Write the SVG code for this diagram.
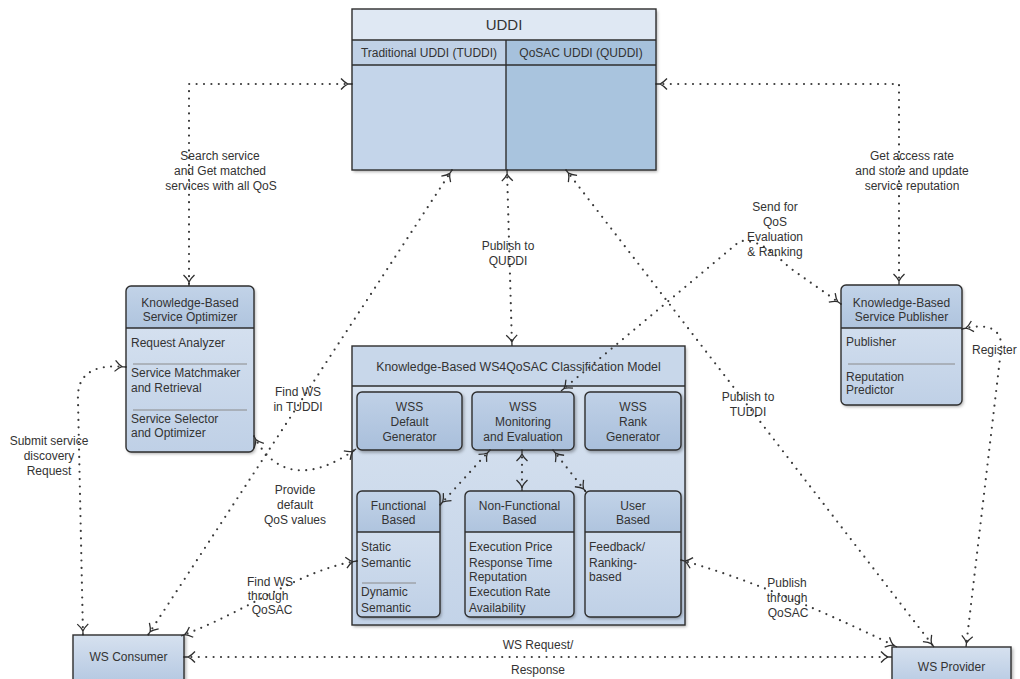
<svg xmlns="http://www.w3.org/2000/svg" width="1020" height="679" viewBox="0 0 1020 679">
<style>
text{font-family:"Liberation Sans",Arial,sans-serif;font-size:12px;fill:#333}
.c{text-anchor:middle}
.t{font-size:15px}
.ln{fill:none;stroke:#3a3a3a;stroke-width:2.2;stroke-linecap:round;stroke-dasharray:0 7.4;marker-start:url(#ah);marker-end:url(#ah)}
.bd{stroke:#2e2e2e;stroke-width:1.4}
.dv{stroke:#8a8a8a;stroke-width:1}
.sh{filter:url(#ds)}
</style>
<defs>
<linearGradient id="gb" x1="0" y1="0" x2="0" y2="1"><stop offset="0" stop-color="#dbe5f2"/><stop offset="1" stop-color="#bfd0e6"/></linearGradient>
<linearGradient id="gh" x1="0" y1="0" x2="0" y2="1"><stop offset="0" stop-color="#c2d3e8"/><stop offset="1" stop-color="#afc4de"/></linearGradient>
<linearGradient id="gw" x1="0" y1="0" x2="0" y2="1"><stop offset="0" stop-color="#c0d1e7"/><stop offset="1" stop-color="#a9bfdb"/></linearGradient>
<linearGradient id="gm" x1="0" y1="0" x2="0" y2="1"><stop offset="0" stop-color="#dbe5f1"/><stop offset="1" stop-color="#c3d3e8"/></linearGradient>
<linearGradient id="gs" x1="0" y1="0" x2="0" y2="1"><stop offset="0" stop-color="#d6e1ef"/><stop offset="1" stop-color="#b6c9e2"/></linearGradient>
<filter id="ds" x="-10%" y="-10%" width="130%" height="130%"><feDropShadow dx="1.5" dy="2" stdDeviation="1.5" flood-color="#000" flood-opacity="0.3"/></filter>
<marker id="ah" viewBox="0 -7 13 14" markerWidth="13" markerHeight="14" refX="11" refY="0" orient="auto-start-reverse" markerUnits="userSpaceOnUse" overflow="visible">
<path d="M0,-5.5 Q4,-1.2 7,0 Q4,1.2 0,5.5 M7,0 L11,0" fill="none" stroke="#2e2e2e" stroke-width="1.3"/>
</marker>
</defs>

<g id="uddi">
<rect x="352" y="9" width="304" height="161" fill="#c4d5ea" class="sh"/>
<rect x="352" y="9" width="304" height="31" fill="#dfe8f3"/>
<rect x="352" y="40" width="154" height="25" fill="#c0d1e6"/>
<rect x="506" y="40" width="150" height="25" fill="#a6c1dc"/>
<rect x="506" y="65" width="150" height="105" fill="#a9c4de"/>
<line x1="352" y1="40" x2="656" y2="40" class="bd"/>
<line x1="352" y1="65" x2="656" y2="65" class="bd"/>
<line x1="506" y1="40" x2="506" y2="170" class="bd"/>
<rect x="352" y="9" width="304" height="161" fill="none" class="bd"/>
<text x="504" y="30" class="c t">UDDI</text>
<text x="429" y="57" class="c">Traditional UDDI (TUDDI)</text>
<text x="581" y="57" class="c">QoSAC UDDI (QUDDI)</text>
</g>

<g id="optimizer">
<rect x="126" y="286" width="128" height="166" rx="5" fill="url(#gb)" class="sh"/>
<path d="M126 328 V291 Q126 286 131 286 H249 Q254 286 254 291 V328 Z" fill="url(#gh)"/>
<line x1="126" y1="328" x2="254" y2="328" class="bd"/>
<line x1="133" y1="364" x2="247" y2="364" class="dv"/>
<line x1="133" y1="410" x2="247" y2="410" class="dv"/>
<rect x="126" y="286" width="128" height="166" rx="5" fill="none" class="bd"/>
<text x="190" y="307" class="c">Knowledge-Based</text>
<text x="190" y="321" class="c">Service Optimizer</text>
<text x="131" y="347">Request Analyzer</text>
<text x="131" y="377">Service Matchmaker</text>
<text x="131" y="392">and Retrieval</text>
<text x="131" y="423">Service Selector</text>
<text x="131" y="437">and Optimizer</text>
</g>

<g id="publisher">
<rect x="841" y="285" width="121" height="120" rx="5" fill="url(#gb)" class="sh"/>
<path d="M841 328 V290 Q841 285 846 285 H957 Q962 285 962 290 V328 Z" fill="url(#gh)"/>
<line x1="841" y1="328" x2="962" y2="328" class="bd"/>
<line x1="848" y1="364" x2="955" y2="364" class="dv"/>
<rect x="841" y="285" width="121" height="120" rx="5" fill="none" class="bd"/>
<text x="901.5" y="307" class="c">Knowledge-Based</text>
<text x="901.5" y="321" class="c">Service Publisher</text>
<text x="846" y="346">Publisher</text>
<text x="846" y="381">Reputation</text>
<text x="846" y="394">Predictor</text>
</g>

<g id="model">
<rect x="352" y="346" width="333" height="279" fill="url(#gm)" class="sh"/>
<rect x="352" y="346" width="333" height="40" fill="#c8d7ea"/>
<line x1="352" y1="386" x2="685" y2="386" class="bd"/>
<rect x="352" y="346" width="333" height="279" fill="none" class="bd"/>
<text x="518.5" y="371" class="c" style="font-size:12.3px">Knowledge-Based WS4QoSAC Classification Model</text>
</g>

<g id="wss-default">
<rect x="357" y="392" width="105" height="58" rx="5" fill="url(#gw)" class="bd sh"/>
<text x="409.5" y="411" class="c">WSS</text>
<text x="409.5" y="426" class="c">Default</text>
<text x="409.5" y="441" class="c">Generator</text>
</g>
<g id="wss-monitoring">
<rect x="472" y="392" width="102" height="58" rx="5" fill="url(#gw)" class="bd sh"/>
<text x="523" y="411" class="c">WSS</text>
<text x="523" y="426" class="c">Monitoring</text>
<text x="523" y="441" class="c">and Evaluation</text>
</g>
<g id="wss-rank">
<rect x="585" y="392" width="96" height="58" rx="5" fill="url(#gw)" class="bd sh"/>
<text x="633" y="411" class="c">WSS</text>
<text x="633" y="426" class="c">Rank</text>
<text x="633" y="441" class="c">Generator</text>
</g>

<g id="functional">
<rect x="357" y="491" width="83" height="126" rx="5" fill="url(#gb)" class="sh"/>
<path d="M357 532 V496 Q357 491 362 491 H435 Q440 491 440 496 V532 Z" fill="url(#gh)"/>
<line x1="357" y1="532" x2="440" y2="532" class="bd"/>
<line x1="362" y1="583" x2="416" y2="583" class="dv"/>
<rect x="357" y="491" width="83" height="126" rx="5" fill="none" class="bd"/>
<text x="398.5" y="510" class="c">Functional</text>
<text x="398.5" y="524" class="c">Based</text>
<text x="361" y="551">Static</text>
<text x="361" y="567">Semantic</text>
<text x="361" y="596">Dynamic</text>
<text x="361" y="612">Semantic</text>
</g>

<g id="non-functional">
<rect x="465" y="491" width="109" height="126" rx="5" fill="url(#gb)" class="sh"/>
<path d="M465 532 V496 Q465 491 470 491 H569 Q574 491 574 496 V532 Z" fill="url(#gh)"/>
<line x1="465" y1="532" x2="574" y2="532" class="bd"/>
<rect x="465" y="491" width="109" height="126" rx="5" fill="none" class="bd"/>
<text x="519.5" y="510" class="c">Non-Functional</text>
<text x="519.5" y="524" class="c">Based</text>
<text x="469" y="551">Execution Price</text>
<text x="469" y="567">Response Time</text>
<text x="469" y="581">Reputation</text>
<text x="469" y="596">Execution Rate</text>
<text x="469" y="612">Availability</text>
</g>

<g id="user">
<rect x="585" y="491" width="96" height="126" rx="5" fill="url(#gb)" class="sh"/>
<path d="M585 532 V496 Q585 491 590 491 H676 Q681 491 681 496 V532 Z" fill="url(#gh)"/>
<line x1="585" y1="532" x2="681" y2="532" class="bd"/>
<rect x="585" y="491" width="96" height="126" rx="5" fill="none" class="bd"/>
<text x="633" y="510" class="c">User</text>
<text x="633" y="524" class="c">Based</text>
<text x="589" y="551">Feedback/</text>
<text x="589" y="567">Ranking-</text>
<text x="589" y="581">based</text>
</g>

<g id="consumer">
<rect x="73" y="635" width="111" height="46" fill="url(#gs)" class="bd sh"/>
<text x="128.5" y="661" class="c">WS Consumer</text>
</g>

<g id="provider">
<rect x="892" y="647" width="119" height="40" fill="url(#gs)" class="bd sh"/>
<text x="951.5" y="671" class="c">WS Provider</text>
</g>

<g id="connectors">
<path class="ln" d="M352 84 L189 84 L189 286"/>
<path class="ln" d="M656 84 L899 84 L899 285"/>
<path class="ln" d="M126 367 Q76 362 78 400 L83 635"/>
<path class="ln" d="M452 170 L148 635"/>
<path class="ln" d="M254 436 C272 472 305 485 356 449"/>
<path class="ln" d="M357 561 C300 570 250 610 181 636"/>
<path class="ln" d="M184 657 L892 657"/>
<path class="ln" d="M507 170 L512 346"/>
<path class="ln" d="M566 170 L934 647"/>
<path class="ln" d="M841 304 L790 268 C770 250 760 240 740 241 L561 391"/>
<path class="ln" d="M962 329 C990 322 1003 330 1001 350 L966 647"/>
<path class="ln" d="M681 560 Q770 585 897 647"/>
<path class="ln" d="M490 450 L440 505"/>
<path class="ln" d="M522 450 L522 491"/>
<path class="ln" d="M553 450 L586 492"/>
</g>

<g id="labels">
<text x="220" y="160" class="c">Search service</text>
<text x="220" y="175" class="c">and Get matched</text>
<text x="221" y="190" class="c">services with all QoS</text>
<text x="912" y="160" class="c">Get access rate</text>
<text x="912" y="175" class="c">and store and update</text>
<text x="912" y="190" class="c">service reputation</text>
<text x="775" y="211" class="c">Send for</text>
<text x="775" y="226" class="c">QoS</text>
<text x="775" y="241" class="c">Evaluation</text>
<text x="775" y="256" class="c">&amp; Ranking</text>
<text x="508" y="250" class="c">Publish to</text>
<text x="508" y="265" class="c">QUDDI</text>
<text x="298" y="396" class="c">Find WS</text>
<text x="298" y="411" class="c">in TUDDI</text>
<text x="295" y="494" class="c">Provide</text>
<text x="295" y="509" class="c">default</text>
<text x="295" y="524" class="c">QoS values</text>
<text x="49" y="445" class="c">Submit service</text>
<text x="49" y="460" class="c">discovery</text>
<text x="49" y="475" class="c">Request</text>
<text x="270" y="586" class="c">Find WS</text>
<text x="268" y="600" class="c">through</text>
<text x="272" y="614" class="c">QoSAC</text>
<text x="538" y="649" class="c">WS Request/</text>
<text x="538" y="674" class="c">Response</text>
<text x="748" y="401" class="c">Publish to</text>
<text x="748" y="416" class="c">TUDDI</text>
<text x="787" y="587" class="c">Publish</text>
<text x="787" y="602" class="c">through</text>
<text x="788" y="617" class="c">QoSAC</text>
<text x="972" y="354">Register</text>
</g>
</svg>
